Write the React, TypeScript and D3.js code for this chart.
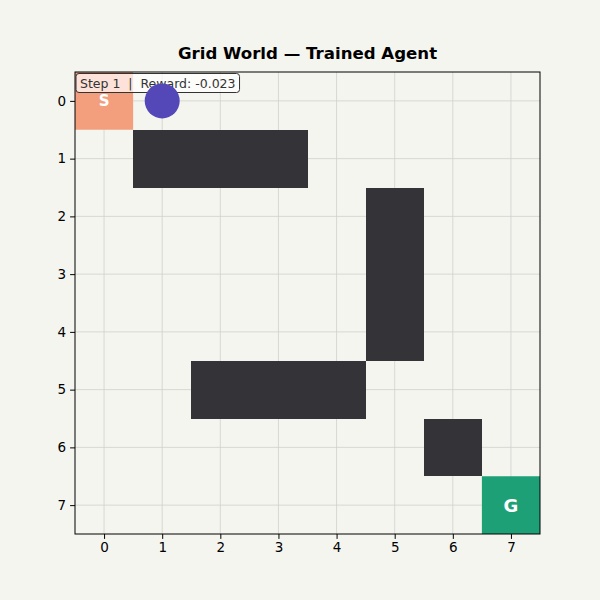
import { useEffect, useRef } from "react";
import * as d3 from "d3";

const gridSize = 8;
const ticks = [0, 1, 2, 3, 4, 5, 6, 7];
// [row, col]
const walls: [number, number][] = [
  [1, 1], [1, 2], [1, 3],
  [2, 5], [3, 5], [4, 5],
  [5, 2], [5, 3], [5, 4],
  [6, 6],
];
const start: [number, number] = [0, 0];
const goal: [number, number] = [7, 7];
const agent: [number, number] = [0, 1];
const step = 1;
const reward = -0.023;

const width = 600;
const height = 600;
const margin = { top: 72, right: 60, bottom: 66, left: 75 };

export default function App() {
  const ref = useRef<SVGSVGElement | null>(null);

  useEffect(() => {
    document.body.style.margin = "0";
    if (!ref.current) return;
    const svg = d3.select(ref.current);
    svg.selectAll("*").remove();

    const font = "DejaVu Sans, sans-serif";
    const x = d3.scaleLinear([-0.5, gridSize - 0.5], [margin.left, width - margin.right]);
    const y = d3.scaleLinear([-0.5, gridSize - 0.5], [margin.top, height - margin.bottom]);
    const cw = x(1) - x(0);
    const ch = y(1) - y(0);

    svg.append("rect").attr("width", width).attr("height", height).attr("fill", "#f5f5f0");

    // grid
    const grid = svg.append("g").attr("stroke", "#d0d0cc").attr("stroke-width", 0.8);
    grid.selectAll("line.v").data(ticks).enter().append("line")
      .attr("x1", (d) => x(d)).attr("x2", (d) => x(d))
      .attr("y1", y.range()[0]).attr("y2", y.range()[1]);
    grid.selectAll("line.h").data(ticks).enter().append("line")
      .attr("y1", (d) => y(d)).attr("y2", (d) => y(d))
      .attr("x1", x.range()[0]).attr("x2", x.range()[1]);

    // walls
    svg.selectAll("rect.wall").data(walls).enter().append("rect")
      .attr("x", (d) => x(d[1] - 0.5)).attr("y", (d) => y(d[0] - 0.5))
      .attr("width", cw).attr("height", ch)
      .attr("fill", "#333338").attr("shape-rendering", "crispEdges");

    // start + goal
    const cells = [
      { pos: start, label: "S", color: "#f39e7d", size: 15 },
      { pos: goal, label: "G", color: "#1ea077", size: 18 },
    ];
    cells.forEach((c) => {
      svg.append("rect")
        .attr("x", x(c.pos[1] - 0.5)).attr("y", y(c.pos[0] - 0.5))
        .attr("width", cw).attr("height", ch).attr("fill", c.color);
      svg.append("text")
        .attr("x", x(c.pos[1])).attr("y", y(c.pos[0]))
        .attr("text-anchor", "middle").attr("dominant-baseline", "central")
        .attr("fill", "white").attr("font-family", font).attr("font-weight", "bold")
        .attr("font-size", c.size).text(c.label);
    });

    // frame
    svg.append("rect")
      .attr("x", x.range()[0]).attr("y", y.range()[0])
      .attr("width", x.range()[1] - x.range()[0]).attr("height", y.range()[1] - y.range()[0])
      .attr("fill", "none").attr("stroke", "black").attr("stroke-width", 1);

    // axes
    const xAxis = svg.append("g").attr("transform", `translate(0,${y.range()[1]})`)
      .call(d3.axisBottom(x).tickValues(ticks).tickFormat(d3.format("d")).tickSize(4.9).tickPadding(4));
    const yAxis = svg.append("g").attr("transform", `translate(${x.range()[0]},0)`)
      .call(d3.axisLeft(y).tickValues(ticks).tickFormat(d3.format("d")).tickSize(4.9).tickPadding(4));
    [xAxis, yAxis].forEach((a) => {
      a.select(".domain").remove();
      a.selectAll("text").attr("font-family", font).attr("font-size", 13.5).attr("fill", "black");
      a.selectAll("line").attr("stroke", "black");
    });

    // title
    svg.append("text")
      .attr("x", (x.range()[0] + x.range()[1]) / 2).attr("y", 59)
      .attr("text-anchor", "middle").attr("font-family", font)
      .attr("font-weight", "bold").attr("font-size", 16.6).attr("fill", "black")
      .text("Grid World — Trained Agent");

    // status box
    const label = `Step ${step}  |  Reward: ${reward.toFixed(3)}`;
    const g = svg.append("g");
    const t = g.append("text")
      .attr("x", 80).attr("y", 87.5)
      .attr("font-family", font).attr("font-size", 12.5).attr("fill", "#333")
      .attr("xml:space", "preserve").style("white-space", "pre")
      .text(label);
    const bb = (t.node() as SVGTextElement).getBBox();
    g.insert("rect", "text")
      .attr("x", bb.x - 4).attr("y", bb.y - 2)
      .attr("width", bb.width + 8).attr("height", bb.height + 4)
      .attr("rx", 3)
      .attr("fill", "white").attr("fill-opacity", 0.7)
      .attr("stroke", "#333").attr("stroke-width", 1);

    // agent (drawn above the status box)
    svg.append("circle")
      .attr("cx", x(agent[1])).attr("cy", y(agent[0])).attr("r", 17.5)
      .attr("fill", "#5448b8");
  }, []);

  return <svg ref={ref} width={width} height={height} style={{ display: "block" }} />;
}
